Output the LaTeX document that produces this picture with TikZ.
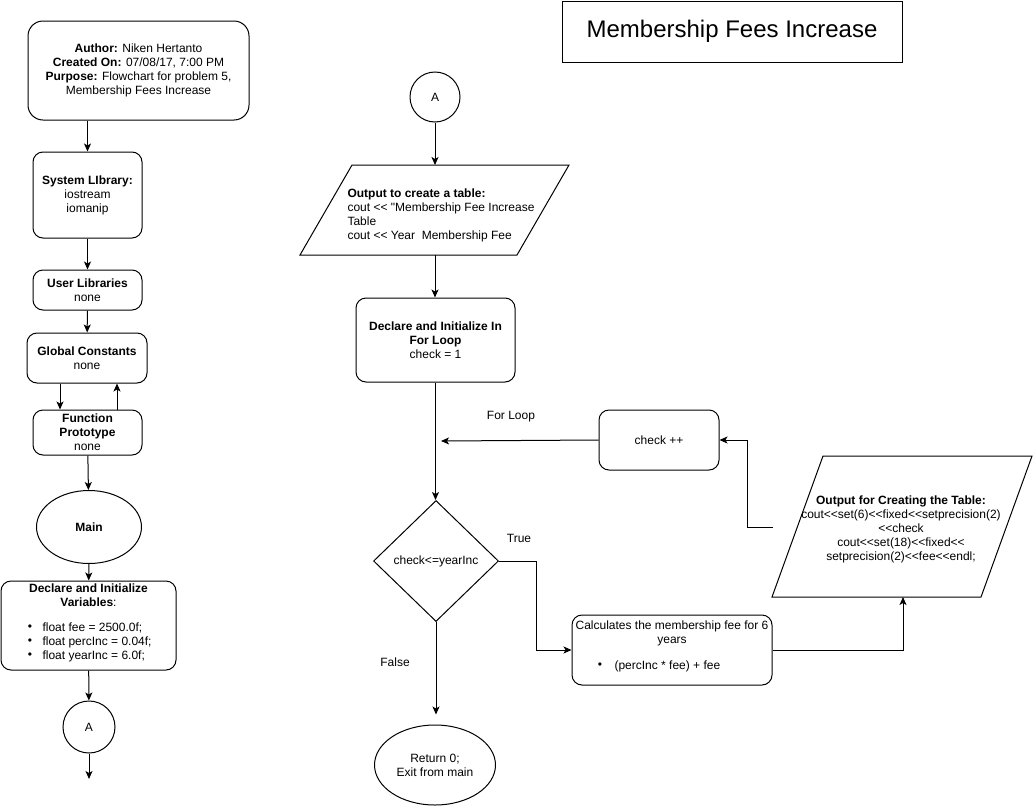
\documentclass[tikz,border=0pt]{standalone}
\usepackage{fontspec}
\newfontfamily\arial{Liberation Sans}
\usetikzlibrary{arrows.meta,shapes.geometric}
\newcommand\fs{\arial\fontsize{12}{14}\selectfont}
\begin{document}
\begin{tikzpicture}[x=1pt,y=-1pt,line width=1pt,
  every node/.style={font=\fs},
  box/.style={draw, rounded corners=10pt, align=center, inner sep=1pt},
  arr/.style={-{Stealth[length=8pt,width=7pt,inset=2pt]}},
  lbl/.style={inner sep=0pt}]
\useasboundingbox (0,0) rectangle (1033,806);

% left column
\node[box, rounded corners=15pt, minimum width=221pt, minimum height=99pt] (author) at (138.5,70.5)
  {\textbf{Author:} Niken Hertanto\\ \textbf{Created On:} 07/08/17, 7:00 PM\\ \textbf{Purpose:} Flowchart for problem 5,\\ Membership Fees Increase};
\node[box, minimum width=109pt, minimum height=86pt] (syslib) at (87.5,195) {\textbf{System LIbrary:}\\ iostream\\ iomanip};
\node[box, minimum width=109pt, minimum height=40pt] (userlib) at (87.5,290) {\textbf{User Libraries}\\ none};
\node[box, minimum width=120pt, minimum height=50pt] (global) at (87,358) {\textbf{Global Constants}\\ none};
\node[box, minimum width=109pt, minimum height=45pt] (func) at (87.5,432.5) {\textbf{Function}\\ \textbf{Prototype}\\ none};
\node[draw, ellipse, minimum width=105pt, minimum height=73pt, inner sep=0pt] (main) at (89,527) {\textbf{Main}};
\node[box, minimum width=175pt, minimum height=89pt] (decl) at (88.5,625.5) {};
\node[lbl, align=center] (decltitle) at (88.5,595) {\textbf{Declare and Initialize}\\ \textbf{Variables}:};
\node[lbl] (b1) at (30,628) {•};
\node[lbl, anchor=west] (v1) at (42,628) {float fee = 2500.0f;};
\node[lbl] (b2) at (30,642) {•};
\node[lbl, anchor=west] (v2) at (42,642) {float percInc = 0.04f;};
\node[lbl] (b3) at (30,656) {•};
\node[lbl, anchor=west] (v3) at (42,656) {float yearInc = 6.0f;};
\node[draw, circle, minimum size=52pt, inner sep=0pt] (a1) at (89,727) {A};
\coordinate (a1end) at (89,779);

% title
\node[draw, minimum width=340pt, minimum height=61pt, font=\arial\fontsize{24}{28}\selectfont] (title) at (732,31.5) {Membership Fees Increase};

% right part
\node[draw, circle, minimum size=50pt, inner sep=0pt] (a2) at (435,97) {A};
\draw (352,165) -- (569,165) -- (517,255) -- (300,255) -- cycle;
\coordinate (p1top) at (435,165);
\coordinate (p1bot) at (435,255);
\node[lbl, align=left, anchor=west] (p1text) at (347,215)
  {\textbf{Output to create a table:}\\ cout << "Membership Fee Increase\\ Table\\ cout << Year\ \ Membership Fee};
\node[box, minimum width=159pt, minimum height=84pt] (dl) at (435.5,340) {\textbf{Declare and Initialize In}\\ \textbf{For Loop}\\ check = 1};
\node[draw, diamond, minimum width=125pt, minimum height=121pt, inner sep=0pt] (dia) at (436,561) {check<=yearInc};
\node[draw, ellipse, minimum width=121pt, minimum height=80pt, inner sep=0pt, align=center] (ret) at (435,765) {Return 0;\\ Exit from main};
\node[box, minimum width=200pt, minimum height=70pt] (calc) at (672,650) {};
\node[lbl, align=center] (calctext) at (672,633) {Calculates the membership fee for 6\\ years};
\node[lbl] (b4) at (600,666) {•};
\node[lbl, anchor=west] (v4) at (614,666) {(percInc * fee) + fee};
\draw (823,456) -- (1032,456) -- (981,597) -- (772,597) -- cycle;
\coordinate (p2bot) at (903,597);
\coordinate (p2l) at (773,527);
\node[lbl, align=center] (p2text) at (901,529.5)
  {\textbf{Output for Creating the Table:}\\ cout<<set(6)<<fixed<<setprecision(2)\\ <<check\\ cout<<set(18)<<fixed<<\\ setprecision(2)<<fee<<endl;};
\node[box, minimum width=120pt, minimum height=60pt] (chk) at (659,440) {check ++};
\coordinate (loopin) at (441,441);

% labels
\node[lbl] (ltrue) at (519,538) {True};
\node[lbl] (lfalse) at (395,662) {False};
\node[lbl] (lloop) at (511,417) {For Loop};

% connectors
\draw[arr] (author.south -| syslib.north) -- (syslib.north);
\draw[arr] (syslib) -- (userlib);
\draw[arr] (userlib) -- (global);
\draw[arr] ([xshift=-27pt]global.south) -- ([xshift=-27pt]global.south |- func.north);
\draw[arr] ([xshift=30pt]global.south |- func.north) -- ([xshift=30pt]global.south);
\draw[arr] (func) -- (main);
\draw[arr] (main) -- (decl);
\draw[arr] (decl) -- (a1);
\draw[arr] (a1) -- (a1end);
\draw[arr] (a2) -- (p1top);
\draw[arr] (p1bot) -- (p1bot |- dl.north);
\draw[arr] (dl.south) -- (dl.south |- dia.north);
\draw[arr] (dia.east) -- ++(37,0) |- (calc.west);
\draw[arr, shorten >=10pt] (dia.south) -- (dia.south |- ret.north);
\draw[arr] (calc.east) -| (p2bot);
\draw[arr] (p2l) -- ++(-26,0) |- (chk.east);
\draw[arr] (chk.west) -- (loopin);
\end{tikzpicture}
\end{document}
